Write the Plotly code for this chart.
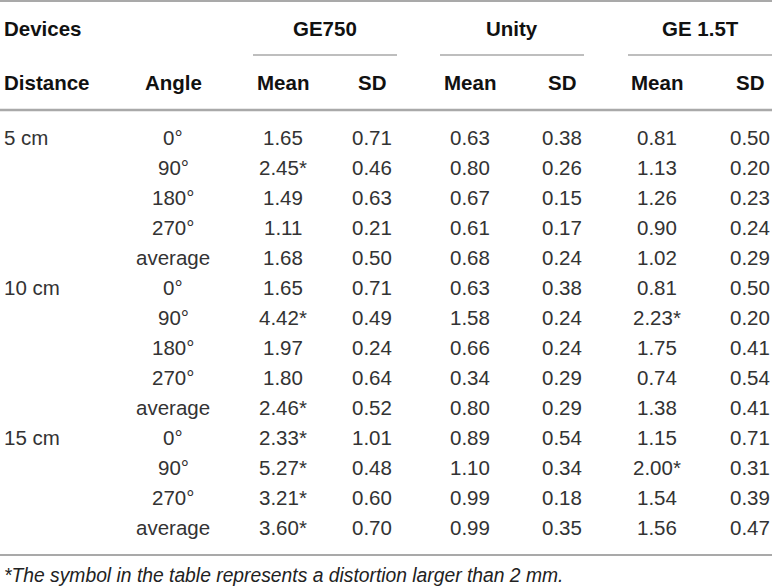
import plotly.graph_objects as go

# ---- data ----
distances = ["5 cm", "", "", "", "", "10 cm", "", "", "", "", "15 cm", "", "", ""]
angles = ["0°", "90°", "180°", "270°", "average",
          "0°", "90°", "180°", "270°", "average",
          "0°", "90°", "270°", "average"]
devices = ["GE750", "Unity", "GE 1.5T"]
ge750_mean = [1.65, 2.45, 1.49, 1.11, 1.68, 1.65, 4.42, 1.97, 1.80, 2.46, 2.33, 5.27, 3.21, 3.60]
ge750_sd = [0.71, 0.46, 0.63, 0.21, 0.50, 0.71, 0.49, 0.24, 0.64, 0.52, 1.01, 0.48, 0.60, 0.70]
unity_mean = [0.63, 0.80, 0.67, 0.61, 0.68, 0.63, 1.58, 0.66, 0.34, 0.80, 0.89, 1.10, 0.99, 0.99]
unity_sd = [0.38, 0.26, 0.15, 0.17, 0.24, 0.38, 0.24, 0.24, 0.29, 0.29, 0.54, 0.34, 0.18, 0.35]
ge15_mean = [0.81, 1.13, 1.26, 0.90, 1.02, 0.81, 2.23, 1.75, 0.74, 1.38, 1.15, 2.00, 1.54, 1.56]
ge15_sd = [0.50, 0.20, 0.23, 0.24, 0.29, 0.50, 0.20, 0.41, 0.54, 0.41, 0.71, 0.31, 0.39, 0.47]
threshold = 2.0  # distortion larger than 2 mm gets a star
footnote = "*The symbol in the table represents a distortion larger than 2 mm."

# ---- layout constants ----
W, H = 772, 588
FONT = "Liberation Sans"
BODY = 20.5
row_y0, row_step = 137.5, 30
hdr1_y, hdr2_y = 28, 82.5
x_dist = 2
x_angle = 173
col_x = [(283, 372), (470, 562), (657, 750)]
group_lines = [(253, 397), (440, 584), (628, 772)]
line_col = "#a9a9a9"
data_col = "#333333"

fig = go.Figure()
fig.add_trace(go.Scatter(x=[0, W], y=[0, H], mode="markers",
                         marker=dict(opacity=0), hoverinfo="skip", showlegend=False))

ann = []

def txt(x, y, s, anchor="center", bold=False, size=BODY, color=data_col, italic=False):
    ann.append(dict(x=x, y=y, xref="x", yref="y", text=s, showarrow=False,
                    xanchor=anchor, yanchor="middle",
                    font=dict(family=FONT, size=size, color="#111" if bold else color,
                              weight="bold" if bold else "normal",
                              style="italic" if italic else "normal")))

# headers
txt(x_dist, hdr1_y, "Devices", anchor="left", bold=True)
txt(x_dist, hdr2_y, "Distance", anchor="left", bold=True)
txt(x_angle, hdr2_y, "Angle", bold=True)
for name, (xm, xs), (l0, l1) in zip(devices, col_x, group_lines):
    txt((l0 + l1) / 2, hdr1_y, name, bold=True)
    txt(xm, hdr2_y, "Mean", bold=True)
    txt(xs, hdr2_y, "SD", bold=True)

def fmt(v, star):
    s = f"{v:.2f}"
    return s + "*" if (star and v >= threshold) else s

series = [(ge750_mean, ge750_sd), (unity_mean, unity_sd), (ge15_mean, ge15_sd)]
for i in range(len(angles)):
    y = row_y0 + i * row_step
    if distances[i]:
        txt(x_dist, y, distances[i], anchor="left")
    txt(x_angle, y, angles[i])
    for (m, sd), (xm, xs) in zip(series, col_x):
        txt(xm, y, fmt(m[i], True))
        txt(xs, y, fmt(sd[i], False))

txt(x_dist, 575, footnote, anchor="left", size=19.3, italic=True, color="#222")

shapes = []
def hline(x0, x1, y, w):
    shapes.append(dict(type="line", xref="x", yref="y", x0=x0, x1=x1, y0=y, y1=y,
                       line=dict(color=line_col, width=w)))

hline(0, W, 1, 2)
for l0, l1 in group_lines:
    hline(l0, l1, 55, 1.5)
hline(0, W, 110, 2.5)
hline(0, W, 555, 2)

fig.update_layout(
    width=W, height=H, margin=dict(l=0, r=0, t=0, b=0),
    paper_bgcolor="white", plot_bgcolor="white",
    xaxis=dict(range=[0, W], visible=False, fixedrange=True),
    yaxis=dict(range=[H, 0], visible=False, fixedrange=True),
    annotations=ann, shapes=shapes, showlegend=False,
)
fig.write_html("out.html", config={"displayModeBar": False},
               post_script="document.body.style.margin='0px';document.body.style.overflow='hidden';")
